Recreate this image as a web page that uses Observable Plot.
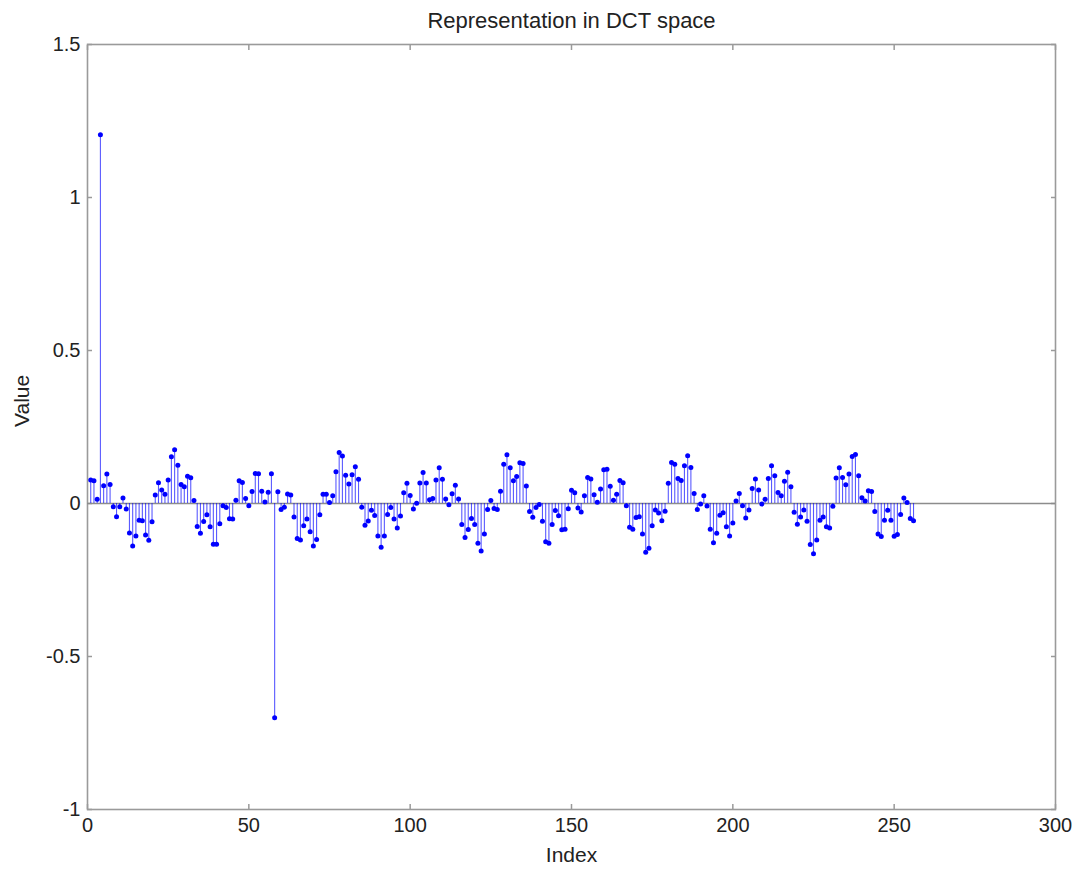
<!DOCTYPE html>
<html>
<head>
<meta charset="utf-8">
<script src="https://cdn.jsdelivr.net/npm/d3@7"></script>
<script src="https://cdn.jsdelivr.net/npm/@observablehq/plot@0.6"></script>
<style>
  html, body { margin: 0; padding: 0; background: #fff; }
  #chart { width: 1081px; height: 871px; }
</style>
</head>
<body>
<div id="chart"></div>
<script>
const title = "Representation in DCT space";
const xLabel = "Index";
const yLabel = "Value";
const xTicks = [0, 50, 100, 150, 200, 250, 300];
const yTicks = [-1, -0.5, 0, 0.5, 1, 1.5];

const values = [
  0.077, 0.074, 0.014, 1.205, 0.058, 0.096, 0.062, -0.011, -0.043, -0.011,
  0.018, -0.018, -0.096, -0.139, -0.106, -0.055, -0.056, -0.103, -0.120, -0.060,
  0.028, 0.068, 0.044, 0.030, 0.077, 0.153, 0.176, 0.125, 0.062, 0.055,
  0.089, 0.084, 0.010, -0.075, -0.097, -0.059, -0.037, -0.076, -0.133, -0.133,
  -0.066, -0.007, -0.013, -0.050, -0.051, 0.011, 0.074, 0.069, 0.016, -0.007,
  0.039, 0.098, 0.097, 0.040, 0.005, 0.037, 0.097, -0.700, 0.038, -0.020,
  -0.012, 0.031, 0.028, -0.044, -0.114, -0.119, -0.073, -0.051, -0.092, -0.139,
  -0.118, -0.037, 0.030, 0.030, 0.003, 0.025, 0.104, 0.167, 0.155, 0.092,
  0.064, 0.094, 0.120, 0.079, -0.012, -0.071, -0.057, -0.022, -0.039, -0.106,
  -0.143, -0.106, -0.036, -0.013, -0.051, -0.080, -0.041, 0.035, 0.066, 0.026,
  -0.018, 0.001, 0.067, 0.101, 0.067, 0.012, 0.016, 0.077, 0.117, 0.079,
  0.015, -0.004, 0.032, 0.060, 0.015, -0.069, -0.111, -0.085, -0.049, -0.069,
  -0.130, -0.155, -0.100, -0.020, 0.010, -0.016, -0.020, 0.040, 0.128, 0.159,
  0.117, 0.074, 0.088, 0.133, 0.131, 0.057, -0.026, -0.045, -0.013, -0.003,
  -0.058, -0.125, -0.130, -0.069, -0.023, -0.040, -0.086, -0.084, -0.017, 0.043,
  0.035, -0.015, -0.028, 0.025, 0.085, 0.080, 0.029, 0.004, 0.047, 0.110,
  0.112, 0.056, 0.011, 0.030, 0.075, 0.068, -0.007, -0.078, -0.084, -0.046,
  -0.043, -0.100, -0.159, -0.146, -0.073, -0.021, -0.031, -0.056, -0.025, 0.066,
  0.134, 0.128, 0.082, 0.075, 0.123, 0.156, 0.118, 0.033, -0.020, -0.002,
  0.025, -0.008, -0.084, -0.128, -0.097, -0.038, -0.030, -0.076, -0.106, -0.064,
  0.008, 0.033, -0.007, -0.047, -0.021, 0.049, 0.080, 0.044, -0.002, 0.014,
  0.082, 0.123, 0.091, 0.036, 0.025, 0.073, 0.102, 0.055, -0.029, -0.068,
  -0.044, -0.021, -0.058, -0.134, -0.164, -0.119, -0.055, -0.044, -0.076, -0.080,
  -0.009, 0.083, 0.117, 0.085, 0.061, 0.096, 0.154, 0.160, 0.091, 0.019,
  0.008, 0.042, 0.039, -0.026, -0.100, -0.108, -0.055, -0.022, -0.055, -0.107,
  -0.101, -0.036, 0.018, 0.003, -0.049, -0.056
];
const indices = values.map((_, k) => k + 1);

const data = indices.map((i, k) => ({ i, v: values[k] }));

const font = "'Liberation Sans', Arial, Helvetica, sans-serif";
const fmt = d => String(d);

const chart = Plot.plot({
  width: 1081,
  height: 871,
  marginLeft: 87,
  marginRight: 26,
  marginTop: 44,
  marginBottom: 62,
  style: { fontFamily: font, fontSize: "19px", background: "#fff", color: "#222" },
  x: { domain: [0, 300], ticks: xTicks },
  y: { domain: [-1, 1.5], ticks: yTicks },
  marks: [
    Plot.frame({ stroke: "#9a9a9a", strokeWidth: 1.6 }),
    // inward ticks on all four sides
    Plot.axisX(xTicks, { anchor: "bottom", tickSize: -5, text: null, label: null, stroke: "#9a9a9a", strokeWidth: 1.5 }),
    Plot.axisX(xTicks, { anchor: "top", tickSize: -5, text: null, label: null, stroke: "#9a9a9a", strokeWidth: 1.5 }),
    Plot.axisY(yTicks, { anchor: "left", tickSize: -5, text: null, label: null, stroke: "#9a9a9a", strokeWidth: 1.5 }),
    Plot.axisY(yTicks, { anchor: "right", tickSize: -5, text: null, label: null, stroke: "#9a9a9a", strokeWidth: 1.5 }),
    // tick labels
    Plot.axisX(xTicks, { anchor: "bottom", tickSize: 0, tickPadding: 8, tickFormat: fmt, label: null, fontSize: 20, fill: "#222" }),
    Plot.axisY(yTicks, { anchor: "left", tickSize: 0, tickPadding: 7, tickFormat: fmt, label: null, fontSize: 20, fill: "#222" }),
    // zero baseline
    Plot.ruleY([0], { stroke: "#8c8c8c", strokeWidth: 1.6 }),
    // stems
    Plot.ruleX(data, { x: "i", y1: 0, y2: "v", stroke: "#0000ff", strokeWidth: 1.1, strokeOpacity: 0.65 }),
    // markers
    Plot.dot(data, { x: "i", y: "v", r: 2.5, fill: "#0000ff", stroke: "none" }),
    // title and axis labels
    Plot.text([title], { frameAnchor: "top", lineAnchor: "middle", dy: -24, fontSize: 22, fill: "#222", text: d => d }),
    Plot.text([xLabel], { frameAnchor: "bottom", lineAnchor: "middle", dy: 46, fontSize: 21, fill: "#222", text: d => d }),
    Plot.text([yLabel], { frameAnchor: "left", lineAnchor: "middle", dx: -65, rotate: -90, fontSize: 21, fill: "#222", text: d => d })
  ]
});

document.getElementById("chart").appendChild(chart);
</script>
</body>
</html>
